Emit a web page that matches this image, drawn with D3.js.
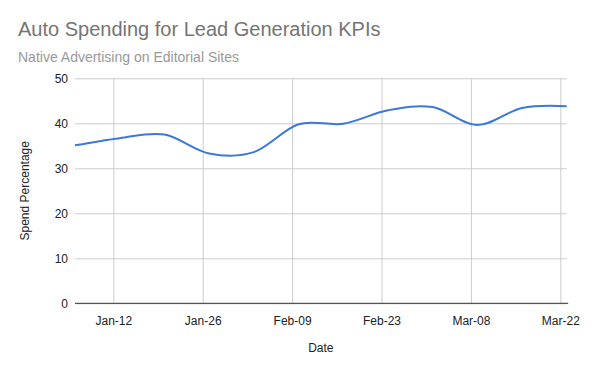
<!DOCTYPE html>
<html>
<head>
<meta charset="utf-8">
<script src="https://cdn.jsdelivr.net/npm/d3@7"></script>
<style>
  html, body { margin: 0; padding: 0; background: #fff; }
  svg { display: block; font-family: "Liberation Sans", Arial, sans-serif; }
</style>
</head>
<body>
<svg id="chart" width="600" height="371"></svg>
<script>
const dates = ["2020-01-06","2020-01-13","2020-01-20","2020-01-27","2020-02-03","2020-02-10",
               "2020-02-17","2020-02-24","2020-03-02","2020-03-09","2020-03-16","2020-03-23"];
const spend = [35.1, 36.7, 37.5, 33.3, 33.6, 39.8, 39.9, 42.9, 43.6, 39.6, 43.4, 43.8];
const xTickDates = ["2020-01-12","2020-01-26","2020-02-09","2020-02-23","2020-03-08","2020-03-22"];
const yTicks = [0, 10, 20, 30, 40, 50];
const titleText = "Auto Spending for Lead Generation KPIs";
const subtitleText = "Native Advertising on Editorial Sites";
const xTitle = "Date";
const yTitle = "Spend Percentage";

(function () {
const parse = d3.utcParse("%Y-%m-%d");
const fmt = d3.utcFormat("%b-%d");
const data = dates.map((d, i) => ({ date: parse(d), value: spend[i] }));

const svg = d3.select("#chart");
const pl = 75, pr = 566.7, pt = 78.3, pb = 303.3;

const x = d3.scaleUtc()
  .domain(d3.extent(data, d => d.date))
  .range([pl, pr]);
const y = d3.scaleLinear().domain([0, 50]).range([pb, pt]);

// horizontal gridlines
svg.append("g")
  .attr("transform", `translate(${pl},0)`)
  .call(d3.axisLeft(y).tickValues(yTicks).tickSize(-(pr - pl)).tickFormat(d => d).tickPadding(7))
  .call(g => g.select(".domain").remove())
  .call(g => g.selectAll(".tick line").attr("stroke", "#cccccc").attr("stroke-width", 1))
  .call(g => g.selectAll(".tick text").attr("fill", "#222").attr("font-size", 12));

// vertical gridlines + labels
svg.append("g")
  .attr("transform", `translate(0,${pb})`)
  .call(d3.axisBottom(x).tickValues(xTickDates.map(parse)).tickSize(-(pb - pt)).tickFormat(fmt).tickPadding(13))
  .call(g => g.select(".domain").remove())
  .call(g => g.selectAll(".tick line").attr("stroke", "#cccccc").attr("stroke-width", 1))
  .call(g => g.selectAll(".tick text").attr("fill", "#222").attr("font-size", 12));

// baseline
svg.append("line")
  .attr("x1", pl).attr("x2", pr + 1.5)
  .attr("y1", y(0)).attr("y2", y(0))
  .attr("stroke", "#333").attr("stroke-width", 1);

// line
const line = d3.line()
  .x(d => x(d.date))
  .y(d => y(d.value))
  .curve(d3.curveCardinal.tension(0));

svg.append("path")
  .datum(data)
  .attr("fill", "none")
  .attr("stroke", "#3c78d8")
  .attr("stroke-width", 2)
  .attr("d", line);

// titles
svg.append("text")
  .attr("x", 18).attr("y", 36)
  .attr("font-size", 20).attr("fill", "#757575")
  .text(titleText);
svg.append("text")
  .attr("x", 18).attr("y", 62)
  .attr("font-size", 14).attr("fill", "#999999")
  .text(subtitleText);

svg.append("text")
  .attr("x", (pl + pr) / 2).attr("y", 352)
  .attr("text-anchor", "middle")
  .attr("font-size", 12).attr("fill", "#222")
  .text(xTitle);

svg.append("text")
  .attr("transform", `translate(29,${(pt + pb) / 2}) rotate(-90)`)
  .attr("text-anchor", "middle")
  .attr("font-size", 12).attr("fill", "#222")
  .text(yTitle);
})();
</script>
</body>
</html>
